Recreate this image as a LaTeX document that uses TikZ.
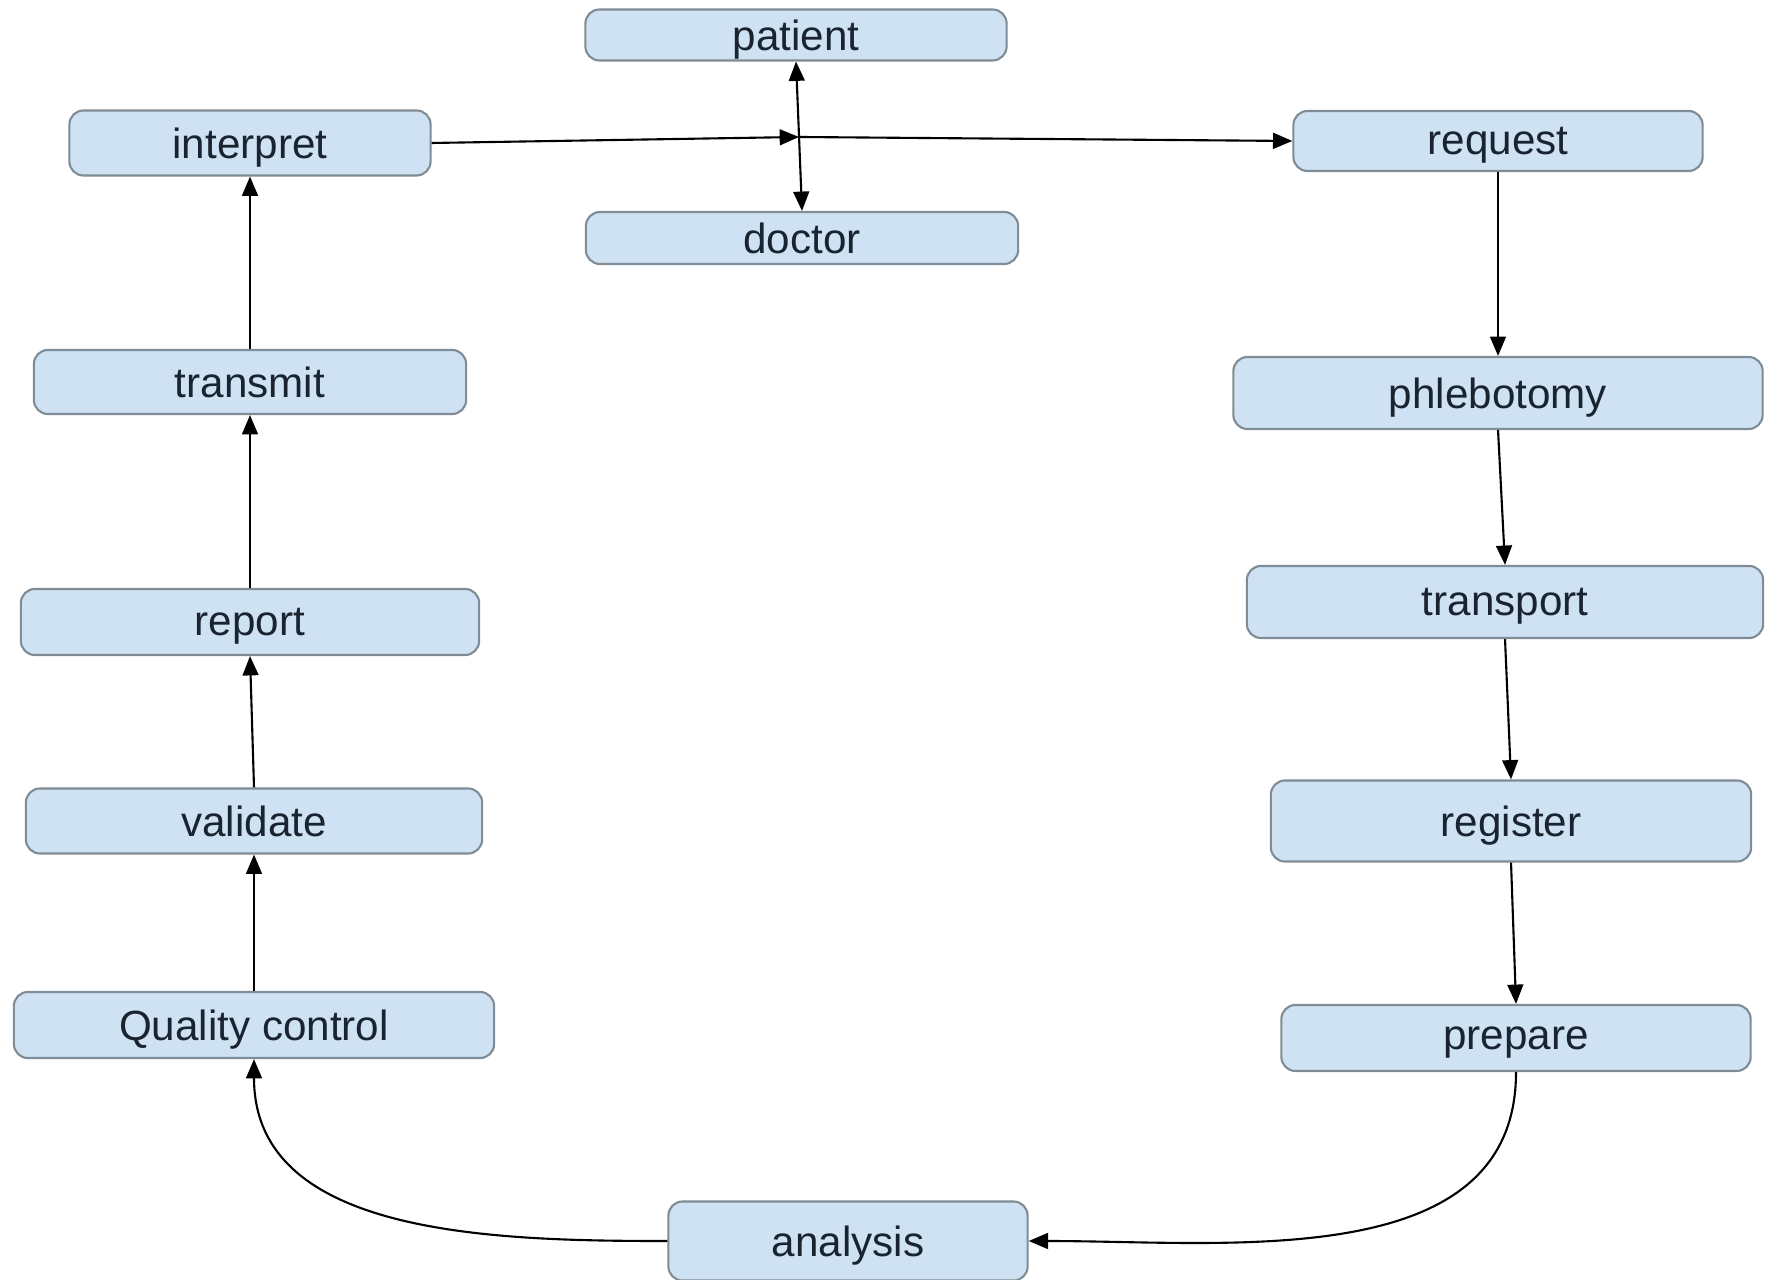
\documentclass[tikz,border=0pt]{standalone}
\usepackage{fontspec}
\setmainfont{Liberation Sans}
\usepackage{xcolor}
\usetikzlibrary{arrows.meta}
\definecolor{boxfill}{HTML}{CFE2F3}
\definecolor{boxline}{HTML}{7F8C95}
\definecolor{txt}{HTML}{1A2330}
\tikzset{stage/.style = {draw=boxline, fill=boxfill, rounded corners=4pt,
  line width=0.6pt, inner sep=0pt, text depth=0pt, text=txt, font=\fontsize{12}{14}\selectfont}}

\begin{document}
\begin{tikzpicture}[x=0.01cm,y=-0.01cm,
  flow/.style={line width=0.6pt, -{Triangle[width=4.5pt,length=5.5pt]}}]
  \useasboundingbox (0,0) rectangle (1774,1280);
  \node[stage, minimum width=4.21cm, minimum height=0.51cm] (pat) at (796,35) {patient};
  \node[stage, minimum width=3.61cm, minimum height=0.65cm] (interp) at (250,143) {interpret};
  \node[stage, minimum width=4.32cm, minimum height=0.52cm] (doc) at (802,238) {doctor};
  \node[stage, minimum width=4.09cm, minimum height=0.60cm] (req) at (1498,141) {request};
  \node[stage, minimum width=4.32cm, minimum height=0.64cm] (trans) at (250,382) {transmit};
  \node[stage, minimum width=5.29cm, minimum height=0.72cm] (phleb) at (1498,393) {phlebotomy};
  \node[stage, minimum width=4.58cm, minimum height=0.66cm] (rep) at (250,622) {report};
  \node[stage, minimum width=5.16cm, minimum height=0.72cm] (transp) at (1505,602) {transport};
  \node[stage, minimum width=4.56cm, minimum height=0.65cm] (val) at (254,821) {validate};
  \node[stage, minimum width=4.80cm, minimum height=0.81cm] (reg) at (1511,821) {register};
  \node[stage, minimum width=4.80cm, minimum height=0.66cm] (qc) at (254,1025) {Quality control};
  \node[stage, minimum width=4.69cm, minimum height=0.66cm] (prep) at (1516,1038) {prepare};
  \node[stage, minimum width=3.59cm, minimum height=0.79cm] (ana) at (848,1241) {analysis};
  \coordinate (mid) at (799,137);
  % top row
  \draw[flow] (interp.east) -- (mid);
  \draw[flow] (mid) -- (req.west);
  \draw[flow, {Triangle[width=4.5pt,length=5.5pt]}-{Triangle[width=4.5pt,length=5.5pt]}] (pat.south) -- (doc.north);
  % right column
  \draw[flow] (req.south) -- (phleb.north);
  \draw[flow] (phleb.south) -- (transp.north);
  \draw[flow] (transp.south) -- (reg.north);
  \draw[flow] (reg.south) -- (prep.north);
  \draw[flow] (prep.south) to[out=-90, in=0] (ana.east);
  % left column
  \draw[flow] (ana.west) to[out=180, in=-90] (qc.south);
  \draw[flow] (qc.north) -- (val.south);
  \draw[flow] (val.north) -- (rep.south);
  \draw[flow] (rep.north) -- (trans.south);
  \draw[flow] (trans.north) -- (interp.south);
\end{tikzpicture}
\end{document}
